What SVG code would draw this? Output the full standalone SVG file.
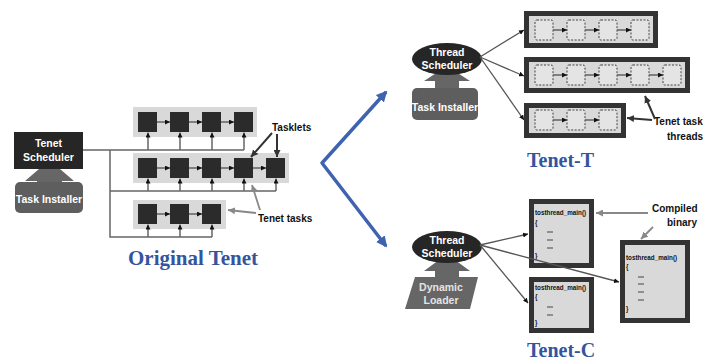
<svg xmlns="http://www.w3.org/2000/svg" width="708" height="363" viewBox="0 0 708 363">
<defs>
<style>
.lbl{font-family:"Liberation Sans",Arial,sans-serif;font-weight:bold;font-size:10px;fill:#111}
.wt{font-family:"Liberation Sans",Arial,sans-serif;font-weight:bold;font-size:10.5px;fill:#fff;text-anchor:middle}
.lt{font-family:"Liberation Sans",Arial,sans-serif;font-weight:bold;font-size:10.5px;fill:#e4e4e4;text-anchor:middle}
.title{font-family:"Liberation Serif","Times New Roman",serif;font-weight:bold;fill:#34559e}
.code{font-family:"Liberation Sans",Arial,sans-serif;font-weight:bold;font-size:6.3px;fill:#111}
.sq{fill:#2b2b2b}
.rowbg{fill:#d9d9d9}
.bus{fill:none;stroke:#666;stroke-width:1.5}
.up{stroke:#666;stroke-width:1.5;marker-end:url(#ah)}
.hz{stroke:#444;stroke-width:1.2;marker-end:url(#ah)}
.thr{fill:#d9d9d9;stroke:#333;stroke-width:5}
.dsq{fill:#e4e4e4;stroke:#444;stroke-width:1;stroke-dasharray:2 1.5}
.link{stroke:#555;stroke-width:1.3;fill:none;marker-end:url(#ah)}
.callout{stroke:#333;stroke-width:2;fill:none;marker-end:url(#ahb)}
.gcall{stroke:#888;stroke-width:1.8;fill:none;marker-end:url(#ahg)}
.gray{fill:#666}
.dash{stroke:#444;stroke-width:1}
</style>
<marker id="ah" viewBox="0 0 6 6" refX="6" refY="3" markerWidth="5" markerHeight="5" markerUnits="userSpaceOnUse" orient="auto"><path d="M0,0 L6,3 L0,6 z" fill="#111"/></marker>
<marker id="ahb" viewBox="0 0 6 6" refX="6" refY="3" markerWidth="7" markerHeight="7" markerUnits="userSpaceOnUse" orient="auto"><path d="M0,0 L6,3 L0,6 z" fill="#333"/></marker>
<marker id="ahg" viewBox="0 0 6 6" refX="6" refY="3" markerWidth="7" markerHeight="7" markerUnits="userSpaceOnUse" orient="auto"><path d="M0,0 L6,3 L0,6 z" fill="#888"/></marker>
<marker id="ahblue" viewBox="0 0 6 6" refX="5" refY="3" markerWidth="11" markerHeight="11" markerUnits="userSpaceOnUse" orient="auto-start-reverse"><path d="M0,0 L6,3 L0,6 z" fill="#3f63b0"/></marker>
</defs>
<rect width="708" height="363" fill="#fff"/>

<!-- Original Tenet -->
<g id="orig-installer-arrow"><polygon class="gray" points="49.5,160 74,181 62,181 62,184 37,184 37,181 25,181"/></g>
<g id="tenet-scheduler">
<rect x="14" y="132" width="69" height="37" fill="#262626"/>
<text class="wt" x="48.5" y="147">Tenet</text>
<text class="wt" x="48.5" y="161">Scheduler</text>
</g>
<g id="orig-task-installer">
<rect x="15" y="182" width="68" height="31" rx="5" fill="#5e5e5e"/>
<text class="wt" x="49" y="203">Task Installer</text>
</g>

<g id="row1">
<rect class="rowbg" x="133" y="107" width="124" height="30"/>
<rect class="sq" x="138" y="112" width="19" height="20"/>
<rect class="sq" x="170" y="112" width="19" height="20"/>
<rect class="sq" x="202" y="112" width="19" height="20"/>
<rect class="sq" x="234" y="112" width="19" height="20"/>
</g>
<g id="row2">
<rect class="rowbg" x="133" y="153" width="156" height="30"/>
<rect class="sq" x="138" y="158" width="19" height="20"/>
<rect class="sq" x="170" y="158" width="19" height="20"/>
<rect class="sq" x="202" y="158" width="19" height="20"/>
<rect class="sq" x="234" y="158" width="19" height="20"/>
<rect class="sq" x="266" y="158" width="19" height="20"/>
</g>
<g id="row3">
<rect class="rowbg" x="133" y="200" width="93" height="29"/>
<rect class="sq" x="138" y="204" width="19" height="20"/>
<rect class="sq" x="170" y="204" width="19" height="20"/>
<rect class="sq" x="202" y="204" width="19" height="20"/>
</g>
<g id="tasklets-label"><text class="lbl" x="272" y="131">Tasklets</text></g>
<g id="tenet-tasks-label"><text class="lbl" x="258" y="222">Tenet tasks</text></g>
<g id="original-title"><text class="title" x="128" y="265" font-size="21">Original Tenet</text></g>

<!-- Tenet-T -->
<g id="t-installer-arrow"><polygon class="gray" points="447,66 470,81 459,81 459,89 435,89 435,81 424,81"/></g>
<g id="t-thread-scheduler">
<ellipse cx="447" cy="59" rx="35" ry="16" fill="#262626"/>
<text class="wt" x="447" y="56">Thread</text>
<text class="wt" x="447" y="69">Scheduler</text>
</g>
<g id="t-task-installer">
<rect x="412" y="88" width="66" height="32" rx="5" fill="#5e5e5e"/>
<text class="wt" x="445" y="111">Task Installer</text>
</g>
<g id="thread1">
<rect class="thr" x="526.5" y="13.5" width="129" height="32"/>
<rect class="dsq" x="535" y="20" width="18" height="20" rx="2"/>
<rect class="dsq" x="567" y="20" width="18" height="20" rx="2"/>
<rect class="dsq" x="599" y="20" width="18" height="20" rx="2"/>
<rect class="dsq" x="631" y="20" width="18" height="20" rx="2"/>
</g>
<g id="thread2">
<rect class="thr" x="526.5" y="59.5" width="161" height="31"/>
<rect class="dsq" x="535" y="65" width="18" height="20" rx="2"/>
<rect class="dsq" x="567" y="65" width="18" height="20" rx="2"/>
<rect class="dsq" x="599" y="65" width="18" height="20" rx="2"/>
<rect class="dsq" x="631" y="65" width="18" height="20" rx="2"/>
<rect class="dsq" x="663" y="65" width="18" height="20" rx="2"/>
</g>
<g id="thread3">
<rect class="thr" x="526.5" y="105.5" width="97" height="30"/>
<rect class="dsq" x="535" y="110" width="18" height="20" rx="2"/>
<rect class="dsq" x="567" y="110" width="18" height="20" rx="2"/>
<rect class="dsq" x="599" y="110" width="18" height="20" rx="2"/>
</g>
<g id="threads-label">
<text class="lbl" x="654" y="125">Tenet task</text>
<text class="lbl" x="667" y="140">threads</text>
</g>
<g id="tenet-t-title"><text class="title" x="527" y="167" font-size="20">Tenet-T</text></g>

<!-- Tenet-C -->
<g id="c-loader-arrow"><polygon class="gray" points="447,254 470,271 459,271 459,278 435,278 435,271 424,271"/></g>
<g id="c-thread-scheduler">
<ellipse cx="447" cy="247" rx="35" ry="16" fill="#262626"/>
<text class="wt" x="447" y="244">Thread</text>
<text class="wt" x="447" y="257">Scheduler</text>
</g>
<g id="dynamic-loader">
<polygon points="415,277 478,277 470,309 405,309" fill="#666"/>
<text class="lt" x="441" y="291">Dynamic</text>
<text class="lt" x="441" y="304">Loader</text>
</g>
<g id="binaryA">
<rect class="thr" x="531.5" y="201.5" width="60" height="64" fill="#dcdcdc"/>
<text class="code" x="535" y="215">tosthread_main()</text>
<text class="code" x="535" y="225">{</text>
<line class="dash" x1="547" y1="232" x2="553" y2="232"/>
<line class="dash" x1="547" y1="240" x2="553" y2="240"/>
<line class="dash" x1="547" y1="248" x2="553" y2="248"/>
<text class="code" x="535" y="258">}</text>
</g>
<g id="binaryB">
<rect class="thr" x="531.5" y="279.5" width="60" height="51"/>
<text class="code" x="535" y="290">tosthread_main()</text>
<text class="code" x="535" y="299">{</text>
<line class="dash" x1="547" y1="307" x2="553" y2="307"/>
<line class="dash" x1="547" y1="315" x2="553" y2="315"/>
<text class="code" x="535" y="325">}</text>
</g>
<g id="binaryC">
<rect class="thr" x="622.5" y="242.5" width="65" height="78"/>
<text class="code" x="626" y="260">tosthread_main()</text>
<text class="code" x="626" y="269">{</text>
<line class="dash" x1="638" y1="277" x2="644" y2="277"/>
<line class="dash" x1="638" y1="284" x2="644" y2="284"/>
<line class="dash" x1="638" y1="292" x2="644" y2="292"/>
<line class="dash" x1="638" y1="300" x2="644" y2="300"/>
<text class="code" x="626" y="311">}</text>
</g>
<g id="compiled-label">
<text class="lbl" x="652" y="212">Compiled</text>
<text class="lbl" x="667" y="226">binary</text>
</g>
<g id="tenet-c-title"><text class="title" x="527" y="357" font-size="20">Tenet-C</text></g>

<g id="connectors">
<!-- original buses -->
<path class="bus" d="M83,150 H244 M110,150 V237 H212 M110,191 H276"/>
<line class="up" x1="148" y1="150" x2="148" y2="132.5"/>
<line class="up" x1="180" y1="150" x2="180" y2="132.5"/>
<line class="up" x1="212" y1="150" x2="212" y2="132.5"/>
<line class="up" x1="244" y1="150" x2="244" y2="132.5"/>
<line class="up" x1="148" y1="191" x2="148" y2="178.5"/>
<line class="up" x1="180" y1="191" x2="180" y2="178.5"/>
<line class="up" x1="212" y1="191" x2="212" y2="178.5"/>
<line class="up" x1="244" y1="191" x2="244" y2="178.5"/>
<line class="up" x1="276" y1="191" x2="276" y2="178.5"/>
<line class="up" x1="148" y1="237" x2="148" y2="224.5"/>
<line class="up" x1="180" y1="237" x2="180" y2="224.5"/>
<line class="up" x1="212" y1="237" x2="212" y2="224.5"/>
<line class="hz" x1="157" y1="122" x2="170" y2="122"/>
<line class="hz" x1="189" y1="122" x2="202" y2="122"/>
<line class="hz" x1="221" y1="122" x2="234" y2="122"/>
<line class="hz" x1="157" y1="168" x2="170" y2="168"/>
<line class="hz" x1="189" y1="168" x2="202" y2="168"/>
<line class="hz" x1="221" y1="168" x2="234" y2="168"/>
<line class="hz" x1="253" y1="168" x2="266" y2="168"/>
<line class="hz" x1="157" y1="214" x2="170" y2="214"/>
<line class="hz" x1="189" y1="214" x2="202" y2="214"/>
<line class="callout" x1="272" y1="133" x2="251" y2="157"/>
<line class="callout" x1="277" y1="134" x2="277" y2="157"/>
<line class="gcall" x1="260" y1="210" x2="252" y2="185"/>
<line class="gcall" x1="256" y1="213" x2="228" y2="210"/>
<!-- blue split arrow -->
<path d="M386,92 L322,163 L386,246" fill="none" stroke="#3f63b0" stroke-width="3.5" stroke-linejoin="round" marker-start="url(#ahblue)" marker-end="url(#ahblue)"/>
<!-- Tenet-T links -->
<line class="link" x1="480" y1="57" x2="524" y2="30"/>
<line class="link" x1="480" y1="57" x2="524" y2="76"/>
<line class="link" x1="480" y1="57" x2="524" y2="120"/>
<line class="hz" x1="553" y1="30" x2="567" y2="30"/>
<line class="hz" x1="585" y1="30" x2="599" y2="30"/>
<line class="hz" x1="617" y1="30" x2="631" y2="30"/>
<line class="hz" x1="553" y1="75" x2="567" y2="75"/>
<line class="hz" x1="585" y1="75" x2="599" y2="75"/>
<line class="hz" x1="617" y1="75" x2="631" y2="75"/>
<line class="hz" x1="649" y1="75" x2="663" y2="75"/>
<line class="hz" x1="553" y1="120" x2="567" y2="120"/>
<line class="hz" x1="585" y1="120" x2="599" y2="120"/>
<line class="callout" x1="655" y1="119" x2="645" y2="96"/>
<line class="callout" x1="652" y1="120" x2="627" y2="118"/>
<!-- Tenet-C links -->
<line class="link" x1="480" y1="245" x2="528" y2="234"/>
<line class="link" x1="480" y1="245" x2="528" y2="303"/>
<line class="link" x1="480" y1="245" x2="619" y2="282"/>
<line class="gcall" x1="648" y1="213" x2="596" y2="213"/>
<line class="gcall" x1="653" y1="227" x2="641" y2="239"/>
</g>
</svg>
